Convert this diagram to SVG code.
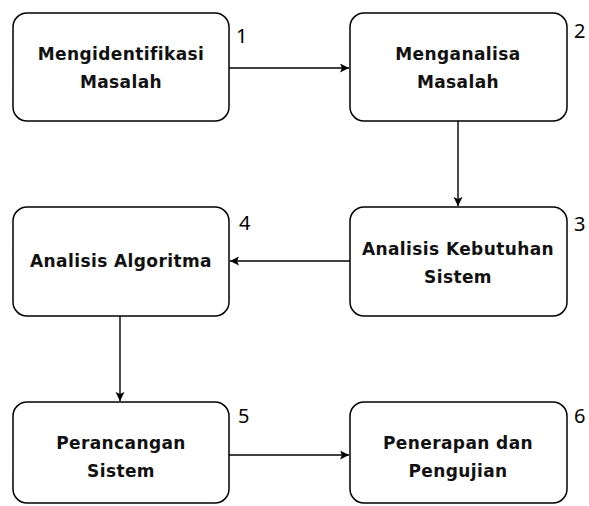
<svg xmlns="http://www.w3.org/2000/svg" width="589" height="506" viewBox="0 0 589 506">
<defs>
<style>
.box{fill:#fff;stroke:#000;stroke-width:1.5}
.lbl{font-family:"DejaVu Sans",sans-serif;font-weight:bold;font-size:17px;letter-spacing:0.4px;text-anchor:middle;fill:#111}
.num{font-family:"Noto Sans","Open Sans",sans-serif;font-size:20px;fill:#000}
.edge{stroke:#000;stroke-width:1.4;fill:none;marker-end:url(#ah)}
</style>
<marker id="ah" markerWidth="12" markerHeight="12" refX="9" refY="4.5" orient="auto" markerUnits="userSpaceOnUse">
<path d="M0,0 L9,4.5 L0,9 L2,4.5 Z" fill="#000"/>
</marker>
</defs>
<rect width="589" height="506" fill="#fff"/>
<g id="connectors">
<path class="edge" d="M229,68 L349,68"/>
<path class="edge" d="M458,121 L458,206"/>
<path class="edge" d="M350,261 L230,261"/>
<path class="edge" d="M120,316 L120,401"/>
<path class="edge" d="M229,455 L349,455"/>
</g>
<g id="n1">
<rect class="box" x="13" y="13" width="216" height="108" rx="14"/>
<text class="lbl" x="121" y="60">Mengidentifikasi</text>
<text class="lbl" x="121" y="88">Masalah</text>
<text class="num" x="236" y="43">1</text>
</g>
<g id="n2">
<rect class="box" x="350" y="13" width="217" height="108" rx="14"/>
<text class="lbl" x="458" y="60">Menganalisa</text>
<text class="lbl" x="458" y="88">Masalah</text>
<text class="num" x="574" y="38">2</text>
</g>
<g id="n3">
<rect class="box" x="350" y="207" width="217" height="109" rx="14"/>
<text class="lbl" x="458" y="255">Analisis Kebutuhan</text>
<text class="lbl" x="458" y="283">Sistem</text>
<text class="num" x="574" y="231">3</text>
</g>
<g id="n4">
<rect class="box" x="13" y="207" width="216" height="109" rx="14"/>
<text class="lbl" x="121" y="267">Analisis Algoritma</text>
<text class="num" x="239" y="230">4</text>
</g>
<g id="n5">
<rect class="box" x="13" y="402" width="216" height="101" rx="14"/>
<text class="lbl" x="121" y="449">Perancangan</text>
<text class="lbl" x="121" y="477">Sistem</text>
<text class="num" x="238" y="423">5</text>
</g>
<g id="n6">
<rect class="box" x="350" y="402" width="217" height="101" rx="14"/>
<text class="lbl" x="458" y="449">Penerapan dan</text>
<text class="lbl" x="458" y="477">Pengujian</text>
<text class="num" x="574" y="423">6</text>
</g>
</svg>
